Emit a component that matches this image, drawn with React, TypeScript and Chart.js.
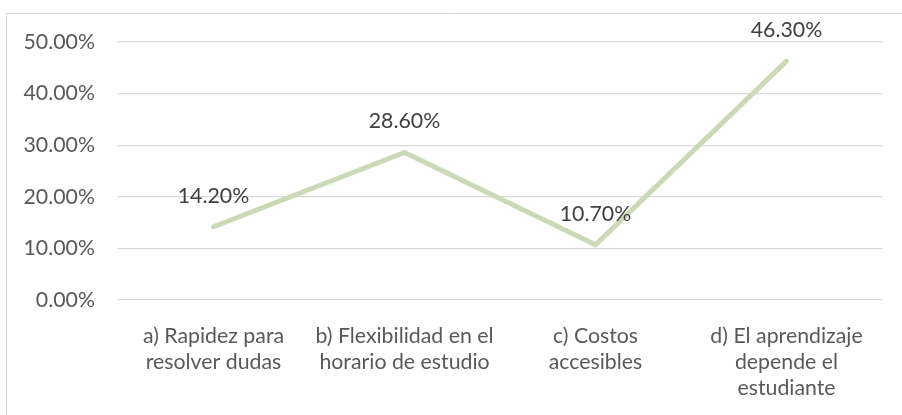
import React, { useEffect, useRef } from "react";
import { Chart, registerables } from "chart.js";

Chart.register(...registerables);

const categories: string[][] = [
  ["a) Rapidez para", "resolver dudas"],
  ["b) Flexibilidad en el", "horario de estudio"],
  ["c) Costos", "accesibles"],
  ["d) El aprendizaje", "depende el", "estudiante"],
];
const values: number[] = [0.142, 0.286, 0.107, 0.463];
const valueLabels: string[] = ["14.20%", "28.60%", "10.70%", "46.30%"];
const yTicks: number[] = [0, 0.1, 0.2, 0.3, 0.4, 0.5];

const FONT = "Lato, 'Open Sans', sans-serif";
const FS = 21.3;

const framePlugin = {
  id: "frame",
  beforeDraw(chart: any) {
    const ctx = chart.ctx;
    ctx.save();
    ctx.strokeStyle = "#d9d9d9";
    ctx.lineWidth = 1;
    ctx.beginPath();
    ctx.moveTo(6.5, 415);
    ctx.lineTo(6.5, 13.5);
    ctx.lineTo(902, 13.5);
    ctx.stroke();
    ctx.restore();
  },
};

const labelPlugin = {
  id: "valueLabels",
  afterDatasetsDraw(chart: any) {
    const ctx = chart.ctx;
    const meta = chart.getDatasetMeta(0);
    ctx.save();
    ctx.fillStyle = "#404040";
    ctx.font = `${FS}px ${FONT}`;
    ctx.textAlign = "center";
    ctx.textBaseline = "middle";
    meta.data.forEach((pt: any, i: number) => {
      ctx.fillText(valueLabels[i], pt.x, pt.y - 31);
    });
    ctx.restore();
  },
};

export default function App() {
  const ref = useRef<HTMLCanvasElement | null>(null);
  useEffect(() => {
    if (!ref.current) return;
    const chart = new Chart(ref.current, {
      type: "line",
      data: {
        labels: categories,
        datasets: [
          {
            data: values,
            borderColor: "#cbdab6",
            borderWidth: 5,
            borderCapStyle: "round",
            borderJoinStyle: "miter",
            pointRadius: 0,
            tension: 0,
            fill: false,
          },
        ],
      },
      options: {
        responsive: false,
        animation: false,
        layout: { padding: { top: 42, right: 20, left: 0, bottom: 0 } },
        plugins: { legend: { display: false }, tooltip: { enabled: false } },
        scales: {
          x: {
            offset: true,
            grid: { display: false, drawTicks: false },
            border: { display: false },
            ticks: {
              color: "#595959",
              padding: 23,
              maxRotation: 0,
              autoSkip: false,
              font: { family: FONT, size: FS, lineHeight: 26 / FS },
            },
            afterFit: (s: any) => {
              s.height = 115;
            },
          },
          y: {
            min: 0,
            max: 0.5,
            afterBuildTicks: (s: any) => {
              s.ticks = yTicks.map((v) => ({ value: v }));
            },
            grid: { color: "#d9d9d9", lineWidth: 1.3, drawTicks: false },
            border: { display: false },
            ticks: {
              color: "#595959",
              padding: 23,
              font: { family: FONT, size: FS },
              callback: (v: any) => (Number(v) * 100).toFixed(2) + "%",
            },
            afterFit: (s: any) => {
              s.width = 118;
            },
          },
        },
      },
      plugins: [framePlugin, labelPlugin],
    });
    return () => chart.destroy();
  }, []);
  return (
    <div style={{ position: "absolute", left: 0, top: 0, width: 902, height: 415, background: "#fff" }}>
      <canvas ref={ref} width={902} height={415} style={{ display: "block" }} />
    </div>
  );
}
